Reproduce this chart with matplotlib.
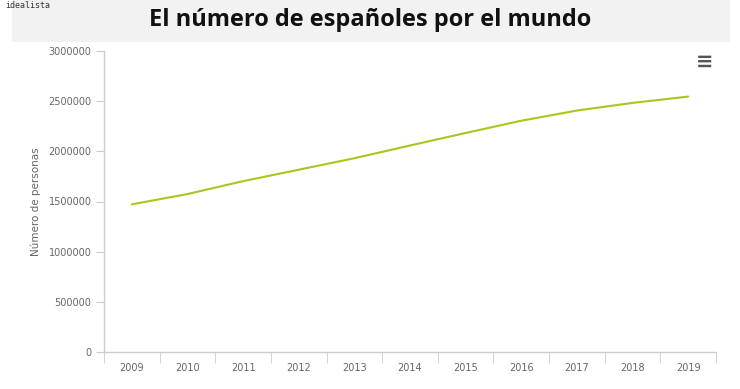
import matplotlib.pyplot as plt
from matplotlib.patches import Rectangle

# data
years = ["2009", "2010", "2011", "2012", "2013", "2014", "2015", "2016", "2017", "2018", "2019"]
personas = [1471691, 1574123, 1702778, 1816835, 1931248, 2058048,
            2183043, 2305030, 2406611, 2482808, 2545729]
y_ticks = [0, 500000, 1000000, 1500000, 2000000, 2500000, 3000000]

W, H = 740, 389
fig = plt.figure(figsize=(W / 100, H / 100), dpi=100)
fig.patch.set_facecolor("white")

# title band
fig.patches.append(Rectangle((12 / W, 1 - 42 / H), 718 / W, 42 / H,
                             transform=fig.transFigure, facecolor="#f2f2f2",
                             edgecolor="none", zorder=0))
fig.text(5 / W, 1 - 6 / H, "idealista", fontsize=6, family="DejaVu Sans Mono",
         va="center", ha="left", color="#333333")
fig.text(370 / W, 1 - 20 / H, "El número de españoles por el mundo",
         fontsize=17, fontweight="bold", family="Open Sans",
         ha="center", va="center", color="#111111")

ax = fig.add_axes([104 / W, 1 - 352 / H, 612 / W, 301 / H])
x = list(range(len(years)))
ax.plot(x, personas, color="#a6c81e", lw=1.5, solid_capstyle="round")

ax.set_xlim(-0.5, len(years) - 0.5)
ax.set_ylim(0, 3000000)
ax.set_yticks(y_ticks)
ax.set_yticklabels([str(v) for v in y_ticks])
ax.set_xticks(x)
ax.set_xticklabels(years)
ax.set_xticks([i - 0.5 for i in range(len(years) + 1)], minor=True)

for s in ["top", "right"]:
    ax.spines[s].set_visible(False)
for s in ["left", "bottom"]:
    ax.spines[s].set_color("#cccccc")
    ax.spines[s].set_linewidth(1)

ax.tick_params(axis="y", length=6, color="#cccccc", labelsize=7,
               labelcolor="#666666", pad=3)
ax.tick_params(axis="x", which="major", length=0, labelsize=7,
               labelcolor="#666666", pad=8)
ax.tick_params(axis="x", which="minor", length=8, color="#cccccc")
ax.set_ylabel("Número de personas", fontsize=7.5, color="#666666", labelpad=5)

# menu icon
fig.text(705 / W, 1 - 62 / H, "≡", fontsize=15, ha="center", va="center",
         color="#555555", fontweight="bold")

fig.savefig("out.png", dpi=100)
